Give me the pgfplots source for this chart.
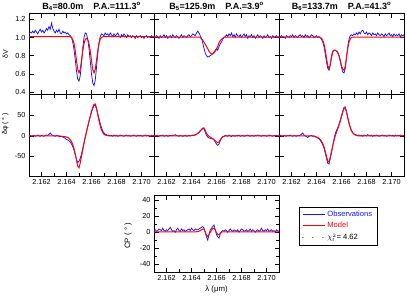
\documentclass[border=0pt]{standalone}
\usepackage{pgfplots}
\pgfplotsset{compat=1.18}
\usepackage{pgfplotstable}
\usepackage{fontspec}
\setmainfont{Liberation Sans}
\definecolor{obs}{RGB}{20,20,255}
\definecolor{mod}{RGB}{255,0,0}

\pgfplotstableread{
x v4 v5 v6 p4 p5 p6 cp
2.1610 1.04 1.01 1.00 0 0 0 2
2.1611 1.06 1.00 1.01 1 -1 1 3
2.1612 1.05 1.02 1.02 -1 1 0 1
2.1613 1.07 1.01 1.00 0 0 -1 2
2.1614 1.05 0.99 1.01 1 -1 1 4
2.1615 1.08 1.02 0.99 -1 1 0 3
2.1616 1.06 1.00 1.02 0 0 -1 2
2.1617 1.04 1.01 1.01 2 2 1 5
2.1618 1.07 1.03 1.00 0 -1 0 2
2.1619 1.09 1.00 1.02 -1 0 2 1
2.1620 1.06 1.02 1.01 1 1 0 3
2.1621 1.08 0.99 1.03 0 -1 -1 2
2.1622 1.05 1.01 1.00 -1 0 1 4
2.1623 1.07 1.02 1.02 1 1 0 6
2.1624 1.10 1.00 1.01 2 0 -1 3
2.1625 1.08 1.03 1.00 1 2 1 1
2.1626 1.12 1.01 1.02 4 1 0 2
2.1627 1.09 1.00 1.03 7 3 2 0
2.1628 1.16 1.02 1.01 3 1 4 3
2.1629 1.10 1.01 1.02 1 0 7 5
2.1630 1.07 0.99 1.00 0 -1 2 2
2.1631 1.05 1.01 1.03 -1 1 0 1
2.1632 1.08 1.03 1.01 1 0 -2 4
2.1633 1.06 1.00 1.02 0 -1 -4 2
2.1634 1.09 1.02 1.00 -1 0 -1 3
2.1635 1.05 1.01 1.01 -2 1 0 1
2.1636 1.04 1.00 1.03 -1 -1 1 2
2.1637 1.07 1.02 1.02 -3 0 -1 3
2.1638 1.05 1.03 1.00 -4 1 0 4
2.1639 1.06 1.01 1.01 -6 0 -2 2
2.1640 1.04 1.02 1.02 -9 1 -3 5
2.1641 1.05 1.04 1.00 -10 2 -5 3
2.1642 1.03 1.03 1.01 -12 1 -7 2
2.1643 1.02 1.02 1.00 -15 2 -11 4
2.1644 1.00 1.05 0.98 -20 4 -16 3
2.1645 0.95 1.07 0.95 -26 6 -22 3
2.1646 0.87 1.05 0.90 -35 8 -30 4
2.1647 0.76 1.02 0.82 -46 12 -42 5
2.1648 0.63 0.99 0.73 -58 15 -55 6
2.1649 0.54 0.94 0.66 -65 18 -67 7
2.1650 0.52 0.88 0.64 -62 17 -69 5
2.1651 0.58 0.83 0.70 -55 9 -56 0
2.1652 0.72 0.80 0.80 -44 1 -40 -6
2.1653 0.88 0.785 0.85 -31 -3 -24 -10
2.1654 1.00 0.79 0.86 -17 -5 -8 -3
2.1655 1.05 0.80 0.86 -3 -6 6 3
2.1656 1.04 0.81 0.85 10 -7 13 5
2.1657 0.98 0.82 0.84 23 -7 20 7
2.1658 0.88 0.84 0.80 35 -10 28 9
2.1659 0.74 0.86 0.74 47 -15 38 3
2.1660 0.60 0.88 0.67 58 -20 49 -3
2.1661 0.50 0.86 0.62 67 -23 60 -6
2.1662 0.47 0.90 0.61 74 -20 70 -7.5
2.1663 0.53 0.93 0.66 75 -12 71 -2
2.1664 0.67 0.95 0.78 66 -6 60 1
2.1665 0.82 0.98 0.90 54 -2 45 2
2.1666 0.94 1.00 0.98 42 -1 32 1
2.1667 1.01 1.01 1.02 30 1 21 3
2.1668 1.04 1.03 1.03 20 0 13 2
2.1669 1.03 1.01 1.02 12 -1 8 0
2.1670 1.02 1.04 1.04 7 2 5 2
2.1671 1.05 1.02 1.03 4 0 3 4
2.1672 1.03 1.05 1.05 3 -2 2 2
2.1673 1.04 1.01 1.03 1 1 1 1
2.1674 1.02 1.03 1.06 2 0 2 3
2.1675 1.05 1.00 1.04 0 -1 0 2
2.1676 1.03 1.04 1.07 1 1 1 1
2.1677 1.01 1.02 1.08 -1 0 -1 3
2.1678 1.04 1.01 1.05 2 2 2 0
2.1679 1.02 1.03 1.04 0 -1 1 2
2.1680 1.03 1.00 1.06 1 0 0 4
2.1681 1.05 1.02 1.03 -1 1 3 3
2.1682 1.02 1.04 1.05 0 -1 1 1
2.1683 1.00 1.01 1.04 2 0 0 2
2.1684 1.03 1.03 1.02 1 1 2 3
2.1685 1.01 0.99 1.05 0 2 -1 1
2.1686 1.04 1.02 1.03 -1 0 1 2
2.1687 1.02 1.01 1.04 1 -1 0 4
2.1688 1.00 1.03 1.02 2 1 2 1
2.1689 1.03 1.00 1.05 0 0 1 3
2.1690 1.01 1.02 1.03 1 -1 -1 2
2.1691 1.02 0.99 1.02 -1 1 0 0
2.1692 1.00 1.01 1.04 0 0 1 2
2.1693 1.02 1.03 1.03 1 2 2 3
2.1694 1.01 1.00 1.01 2 1 0 1
2.1695 0.99 1.02 1.04 0 0 1 2
2.1696 1.02 1.01 1.02 -1 -1 -1 5
2.1697 1.00 0.99 1.03 1 1 0 2
2.1698 1.01 1.02 1.05 0 0 2 1
2.1699 1.02 1.00 1.02 1 1 1 3
2.1700 1.00 1.01 1.03 0 -1 0 2
2.1701 1.01 1.03 1.01 -1 0 1 4
2.1702 0.99 1.00 1.04 1 2 -1 1
2.1703 1.01 1.01 1.02 2 1 2 2
2.1704 1.02 0.99 1.03 0 0 0 3
2.1705 1.00 1.02 1.02 1 -1 1 1
2.1706 1.01 1.00 1.04 0 1 0 2
2.1707 1.00 1.01 1.01 -1 0 2 0
2.1708 1.02 1.02 1.03 1 1 1 3
2.1709 1.01 1.00 1.02 0 0 0 2
2.1710 1.00 1.01 1.03 1 -1 1 1
}\obs

\pgfplotstableread{
x m4 m5 m6 q4 q5 q6 mc
2.1610 1.01 1.005 1.005 0 0 0 0.5
2.1634 1.01 1.005 1.005 0 0 0 0.5
2.1635 1.01 1.005 1.005 -0.5 0 0 0.5
2.1636 1.01 1.005 1.005 -1 0 0 0.5
2.1637 1.01 1.005 1.005 -1 0 -0.5 0.5
2.1638 1.01 1.005 1.005 -1.5 0 -1 0.5
2.1639 1.01 1.005 1.005 -2 0 -2 0.5
2.1640 1.01 1.005 1.005 -3 0.5 -3 0.5
2.1641 1.01 1.005 1.005 -4 1 -4 0.5
2.1642 1.01 1.005 1.005 -6 1.5 -6 0.5
2.1643 1.007 1.005 1.0 -9 2.5 -9 0.5
2.1644 1.0 1.005 0.99 -14 4 -13 0.5
2.1645 0.98 1.005 0.97 -21 6 -19 0.8
2.1646 0.934 1.005 0.93 -31 9 -27 1.2
2.1647 0.852 1.0 0.86 -44 12 -38 2
2.1648 0.745 0.985 0.77 -59 16 -50 3
2.1649 0.649 0.97 0.69 -74 19 -62 4
2.1650 0.61 0.95 0.655 -78 19.5 -64 3.5
2.1651 0.649 0.925 0.70 -66 13 -52 0
2.1652 0.745 0.90 0.78 -50 6 -38 -4
2.1653 0.852 0.875 0.84 -34 2 -24 -5.5
2.1654 0.933 0.85 0.86 -18 -1 -11 -3
2.1655 0.977 0.83 0.86 -4 -3 0 0
2.1656 0.99 0.82 0.85 10 -5 9 2.5
2.1657 0.977 0.82 0.83 23 -7 17 4.5
2.1658 0.933 0.83 0.80 36 -9 26 5
2.1659 0.852 0.85 0.75 48 -12 36 3
2.1660 0.745 0.87 0.69 60 -15 47 -1
2.1661 0.649 0.905 0.65 70 -16 58 -3
2.1662 0.61 0.94 0.64 77 -15 67 -3
2.1663 0.649 0.965 0.68 78 -10 68 -1.5
2.1664 0.745 0.98 0.78 68 -5 58 0
2.1665 0.852 0.99 0.88 52 -2.5 44 0.5
2.1666 0.934 1.0 0.95 37 -1 31 0.5
2.1667 0.98 1.005 0.985 24 -0.5 20 0.5
2.1668 1.0 1.005 1.0 14 0 12 0.5
2.1669 1.007 1.005 1.005 8 0 7 0.5
2.1670 1.01 1.005 1.005 4 0 4 0.5
2.1671 1.01 1.005 1.005 2 0 2 0.5
2.1672 1.01 1.005 1.005 1 0 1 0.5
2.1673 1.01 1.005 1.005 0.5 0 0 0.5
2.1674 1.01 1.005 1.005 0 0 0 0.5
2.1710 1.01 1.005 1.005 0 0 0 0.5
}\model

\pgfplotsset{
  panel/.style={
    scale only axis, width=125pt,
    xmin=2.161, xmax=2.171,
    xtick={2.162,2.164,2.166,2.168,2.170},
    minor xtick={2.161,2.163,2.165,2.167,2.169},
    tick align=inside, xtick pos=both, ytick pos=both,
    major tick length=4.5pt, minor tick length=3pt,
    every tick/.style={black, line width=0.7pt},
    axis line style={line width=0.9pt},
    /pgf/number format/assume math mode=true,
    scaled x ticks=false, scaled y ticks=false,
    xticklabel style={/pgf/number format/fixed, /pgf/number format/fixed zerofill, /pgf/number format/precision=3},
    tick label style={font=\fontsize{7.3}{8}\selectfont},
    every axis title/.style={at={(axis description cs:0.5,1)}, anchor=base, yshift=4.2pt, inner sep=0pt, font=\fontsize{9}{10}\selectfont\bfseries},
  },
  vpanel/.style={panel, height=81.2pt, ymin=0.373, ymax=1.266,
    ytick={0.4,0.6,0.8,1.0,1.2}, xticklabels={},
    yticklabel style={/pgf/number format/fixed, /pgf/number format/fixed zerofill, /pgf/number format/precision=1}},
  ppanel/.style={panel, height=81.5pt, ymin=-98, ymax=101, ytick={-50,0,50}},
  obsline/.style={obs, line width=0.75pt},
  modline/.style={mod, line width=1pt},
}

\begin{document}
\begin{tikzpicture}
\useasboundingbox (0pt,-295pt) rectangle (407pt,0pt);

% top row
\begin{axis}[vpanel, at={(29pt,-13.3pt)}, anchor=north west,
  title={B\textsubscript{4}=80.0m\hspace{10pt}P.A.=111.3\textsuperscript{o}},
  ylabel={δV},
  every axis y label/.style={at={(axis description cs:-0.19,0.5)}, rotate=90, anchor=center, font=\fontsize{7}{8}\selectfont}]
\addplot[obsline] table[x=x,y=v4] {\obs};
\addplot[modline] table[x=x,y=m4] {\model};
\end{axis}
\begin{axis}[vpanel, at={(154pt,-13.3pt)}, anchor=north west, yticklabels={},
  title={B\textsubscript{5}=125.9m\hspace{10pt}P.A.=3.9\textsuperscript{o}}]
\addplot[obsline] table[x=x,y=v5] {\obs};
\addplot[modline] table[x=x,y=m5] {\model};
\end{axis}
\begin{axis}[vpanel, at={(279pt,-13.3pt)}, anchor=north west, yticklabels={},
  title={B\textsubscript{6}=133.7m\hspace{10pt}P.A.=41.3\textsuperscript{o}}]
\addplot[obsline] table[x=x,y=v6] {\obs};
\addplot[modline] table[x=x,y=m6] {\model};
\end{axis}

% middle row
\begin{axis}[ppanel, at={(29pt,-94.5pt)}, anchor=north west,
  ylabel={δφ ( ° )},
  every axis y label/.style={at={(axis description cs:-0.19,0.64)}, rotate=90, anchor=center, font=\fontsize{7}{8}\selectfont}]
\addplot[obsline] table[x=x,y=p4] {\obs};
\addplot[modline] table[x=x,y=q4] {\model};
\end{axis}
\begin{axis}[ppanel, at={(154pt,-94.5pt)}, anchor=north west, yticklabels={}]
\addplot[obsline] table[x=x,y=p5] {\obs};
\addplot[modline] table[x=x,y=q5] {\model};
\end{axis}
\begin{axis}[ppanel, at={(279pt,-94.5pt)}, anchor=north west, yticklabels={}]
\addplot[obsline] table[x=x,y=p6] {\obs};
\addplot[modline] table[x=x,y=q6] {\model};
\end{axis}

% bottom closure phase
\begin{axis}[panel, height=77pt, at={(154pt,-195pt)}, anchor=north west,
  ymin=-50, ymax=46.6, ytick={-40,-20,0,20,40}, minor ytick={-30,-10,10,30},
  xlabel={λ (μm)}, ylabel={CP ( ° )},
  xlabel style={font=\fontsize{7.8}{9}\selectfont, yshift=2pt},
  every axis y label/.style={at={(axis description cs:-0.208,0.47)}, rotate=90, anchor=center, font=\fontsize{7.8}{9}\selectfont},
  legend cell align=left,
  legend image code/.code={\draw[#1] (0pt,0pt) -- (22pt,0pt);},
  legend style={at={(1.16,0.844)}, anchor=north west, draw=black, line width=0.8pt,
    font=\fontsize{7.6}{9}\selectfont, inner xsep=3pt, inner ysep=1.5pt, row sep=0.5pt}]
\addplot[obsline] table[x=x,y=cp] {\obs};
\addlegendentry{\textcolor{obs}{Observations}}
\addplot[modline] table[x=x,y=mc] {\model};
\addlegendentry{\textcolor{mod}{Model}}
\addlegendimage{black, line width=0.9pt, line cap=round, dash pattern=on 0.1pt off 9.9pt}
\addlegendentry{$\chi_{\mathrm{r}}^{2}$= 4.62}
\end{axis}
\end{tikzpicture}
\end{document}
